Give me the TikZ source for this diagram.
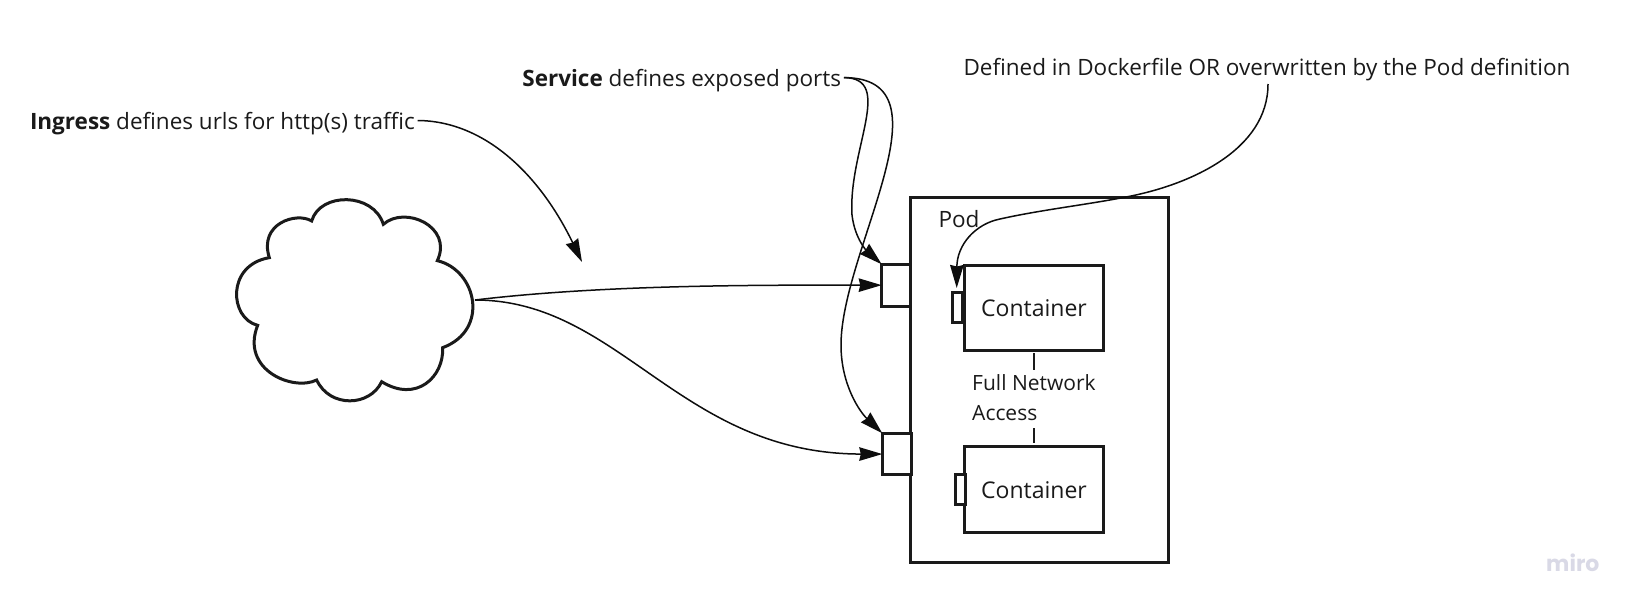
\documentclass[tikz,border=0pt]{standalone}
\usepackage{fontspec}
\setmainfont{Open Sans}
\newfontfamily\mirofont{Poppins}
\usetikzlibrary{arrows.meta}
\definecolor{ink}{HTML}{1A1A1A}
\definecolor{wire}{HTML}{0D0D0D}
\definecolor{wm}{HTML}{D9D9E6}
\tikzset{
  box/.style={draw=ink,line width=3pt,fill=white,inner sep=0pt,outer sep=0pt,anchor=north west},
  cbox/.style={box,minimum width=138.6pt,font=\fontsize{23}{27}\selectfont,text=ink,text height=18.5pt,text depth=0pt},
  lbl/.style={inner sep=0pt,outer sep=0pt,text=ink,font=\fontsize{22.5}{26}\selectfont,anchor=base west},
  small/.style={lbl,font=\fontsize{21}{25}\selectfont},
  note/.style={lbl,inner xsep=3pt,text height=23pt,text depth=5pt},
  conn/.style={draw=wire,line width=1.5pt,-{Stealth[length=23pt,width=13.5pt,inset=1.5pt]}},
  tick/.style={draw=ink,line width=1.4pt}
}
\begin{document}
\begin{tikzpicture}[x=1pt,y=-1pt]
\useasboundingbox (0,0) rectangle (1635,611);
\fill[white] (0,0) rectangle (1635,611);
% pod and ports
\node[box,minimum width=258pt,minimum height=365.5pt] (pod) at (910.3,197.3) {};
\node[box,minimum width=28.5pt,minimum height=41.7pt] (port1) at (881.7,264.3) {};
\node[box,minimum width=29pt,minimum height=41.5pt] (port2) at (882.3,433.3) {};
\node[cbox,minimum height=85.3pt] (c1) at (964.7,265) {Container};
\node[cbox,minimum height=86pt] (c2) at (964.7,446.7) {Container};
\node[box,line width=2.6pt,minimum width=10pt,minimum height=30.4pt] (sp1) at (952.3,292.3) {};
\node[box,line width=2.6pt,minimum width=9.5pt,minimum height=30.4pt] (sp2) at (955.7,474.3) {};
% labels
\node[lbl] (pod label) at (938.5,227.5) {Pod};
\node[small] (fn1) at (972.2,390.2) {Full Network};
\node[small] (fn2) at (972.2,420.2) {Access};
\coordinate (t1a) at (1034,353.3);
\coordinate (t1b) at (1034,370.3);
\coordinate (t2a) at (1034,428.3);
\coordinate (t2b) at (1034,443.3);
\draw[tick] (t1a) -- (t1b);
\draw[tick] (t2a) -- (t2b);
\node[note] (ing) at (27,129.5) {\textbf{Ingress} defines urls for http(s) traffic};
\node[note] (svc) at (519.4,86.6) {\textbf{Service} defines exposed ports};
\node[lbl] (def) at (963.5,75) {Defined in Dockerfile OR overwritten by the Pod definition};
% cloud
\begin{scope}[shift={(220pt,-190pt)},x=0.33333pt,y=-0.33333pt]
\draw[draw=ink,line width=3pt,fill=white,line join=miter]
  (275,93) .. controls (300,6) and (460,6) .. (490,103)
  .. controls (555,45) and (700,110) .. (652,212)
  .. controls (770,240) and (810,420) .. (668,473)
  .. controls (672,560) and (590,640) .. (485,575)
  .. controls (450,650) and (330,655) .. (290,570)
  .. controls (220,605) and (60,540) .. (113,406)
  .. controls (28,385) and (18,225) .. (148,203)
  .. controls (115,100) and (230,65) .. (275,93) -- cycle;
\coordinate (cloud out) at (765,330);
\end{scope}
% connectors
\coordinate (ingress end) at (582,262);
\coordinate (def start) at (1268,84);
\coordinate (def mid) at (1126,197);
\coordinate (def low) at (1000,219);
\coordinate (svc a) at (852,215);
\coordinate (svc b) at (841,345);
\draw[conn] (ing.east) .. controls (485,121) and (540,175) .. (ingress end);
\draw[conn] (svc.east) .. controls (895,78) and (848,150) .. (svc a)
  .. controls (855,240) and (868,252) .. (port1.north west);
\draw[conn] (svc.east) .. controls (955,78) and (841,250) .. (svc b)
  .. controls (841,385) and (860,412) .. (port2.north west);
\draw[conn] (def start) .. controls (1268,150) and (1190,185) .. (def mid)
  .. controls (1085,205) and (1040,210) .. (def low)
  .. controls (975,224) and (957,245) .. (956.7,288);
\draw[conn] (cloud out) .. controls (600,285) and (750,285) .. (port1.west);
\draw[conn] (cloud out) .. controls (620,300) and (680,454) .. (port2.west);
\node[inner sep=0pt,anchor=base west,text=wm,font=\mirofont\bfseries\fontsize{22}{26}\selectfont] (miro) at (1546,571.7) {miro};
\end{tikzpicture}
\end{document}
